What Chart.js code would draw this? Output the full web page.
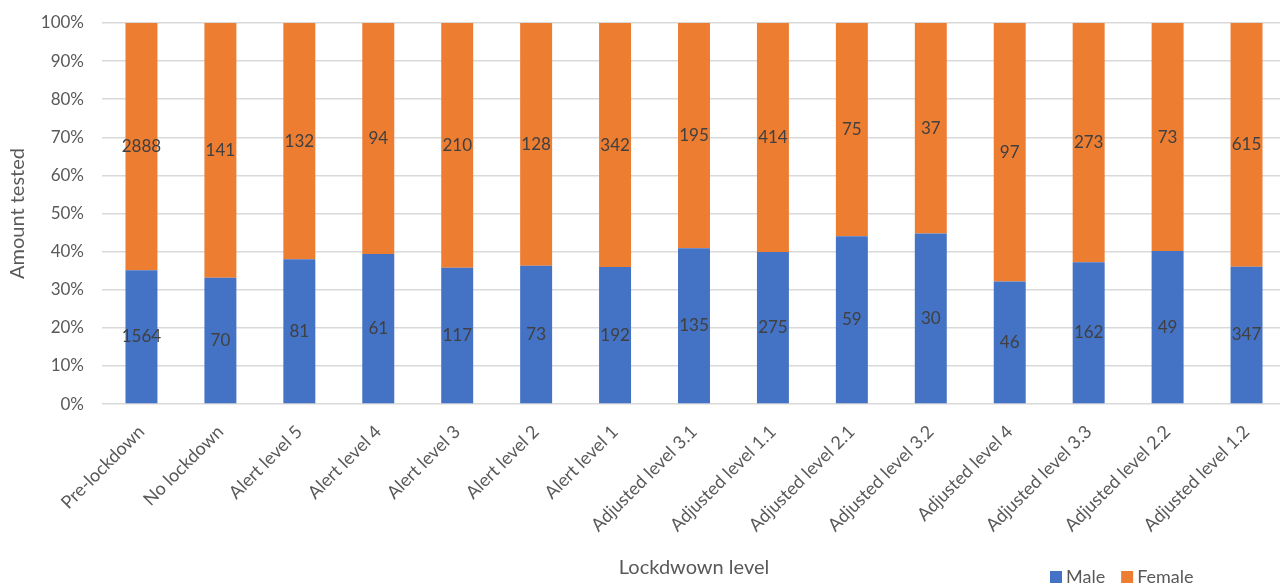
<!DOCTYPE html>
<html lang="en">
<head>
    <meta charset="UTF-8">
    <title>Amount tested by lockdown level</title>
    <script src="https://cdn.jsdelivr.net/npm/chart.js"></script>
    <style>
        body {
            margin: 0;
            overflow: hidden;
            background: #fff;
        }
        #chartContainer {
            width: 1286px;
            height: 586px;
        }
    </style>
</head>
<body>
    <div id="chartContainer">
        <canvas id="barChart" width="1286" height="586"></canvas>
    </div>

    <script>
        const levels = ['Pre-lockdown', 'No lockdown', 'Alert level 5', 'Alert level 4', 'Alert level 3',
            'Alert level 2', 'Alert level 1', 'Adjusted level 3.1', 'Adjusted level 1.1', 'Adjusted level 2.1',
            'Adjusted level 3.2', 'Adjusted level 4', 'Adjusted level 3.3', 'Adjusted level 2.2', 'Adjusted level 1.2'];
        const maleCounts = [1564, 70, 81, 61, 117, 73, 192, 135, 275, 59, 30, 46, 162, 49, 347];
        const femaleCounts = [2888, 141, 132, 94, 210, 128, 342, 195, 414, 75, 37, 97, 273, 73, 615];
        const percentTicks = [0, 10, 20, 30, 40, 50, 60, 70, 80, 90, 100];

        const fontFamily = 'Lato, "Open Sans", sans-serif';
        const textGrey = '#595959';

        // 100% stacked: each bar is share of the category total
        const totals = maleCounts.map((m, i) => m + femaleCounts[i]);
        const toShare = counts => counts.map((c, i) => c / totals[i] * 100);

        // writes the raw count in the middle of every segment
        const countLabels = {
            id: 'countLabels',
            afterDatasetsDraw(chart) {
                const ctx = chart.ctx;
                ctx.save();
                ctx.font = '17px ' + fontFamily;
                ctx.fillStyle = '#404040';
                ctx.textAlign = 'center';
                ctx.textBaseline = 'middle';
                chart.data.datasets.forEach((ds, di) => {
                    chart.getDatasetMeta(di).data.forEach((bar, i) => {
                        const mid = (bar.y + bar.base) / 2;
                        ctx.fillText(String(ds.counts[i]), bar.x, mid);
                    });
                });
                ctx.restore();
            }
        };

        // Excel style legend sitting bottom right
        const cornerLegend = {
            id: 'cornerLegend',
            afterDraw(chart) {
                const ctx = chart.ctx;
                ctx.save();
                ctx.font = '18px ' + fontFamily;
                ctx.textBaseline = 'middle';
                let x = 1050;
                const y = 577;
                chart.data.datasets.forEach(ds => {
                    ctx.fillStyle = ds.backgroundColor;
                    ctx.fillRect(x, y - 6, 12, 12);
                    ctx.fillStyle = textGrey;
                    ctx.textAlign = 'left';
                    ctx.fillText(ds.label, x + 16, y);
                    x += 16 + ctx.measureText(ds.label).width + 16;
                });
                ctx.restore();
            }
        };

        const ctx = document.getElementById('barChart').getContext('2d');
        new Chart(ctx, {
            type: 'bar',
            data: {
                labels: levels,
                datasets: [
                    {
                        label: 'Male',
                        data: toShare(maleCounts),
                        counts: maleCounts,
                        backgroundColor: '#4472C4',
                        barPercentage: 0.405,
                        categoryPercentage: 1
                    },
                    {
                        label: 'Female',
                        data: toShare(femaleCounts),
                        counts: femaleCounts,
                        backgroundColor: '#ED7D31',
                        barPercentage: 0.405,
                        categoryPercentage: 1
                    }
                ]
            },
            options: {
                responsive: false,
                animation: false,
                layout: {
                    padding: { top: 23, left: 6, right: 0, bottom: 6 }
                },
                scales: {
                    x: {
                        stacked: true,
                        grid: { display: false },
                        border: { display: false },
                        afterFit(axis) {
                            // let the slanted first label hang under the y axis
                            axis.paddingLeft = 0;
                            axis.paddingRight = 0;
                        },
                        ticks: {
                            color: textGrey,
                            font: { family: fontFamily, size: 18 },
                            maxRotation: 45,
                            minRotation: 45,
                            autoSkip: false,
                            padding: 9
                        },
                        title: {
                            display: true,
                            text: 'Lockdwown level',
                            color: textGrey,
                            font: { family: fontFamily, size: 20 },
                            padding: { top: 11, bottom: 0 }
                        }
                    },
                    y: {
                        stacked: true,
                        min: 0,
                        max: 100,
                        afterBuildTicks(axis) {
                            axis.ticks = percentTicks.map(v => ({ value: v }));
                        },
                        afterFit(axis) {
                            axis.width = 96;
                            axis.paddingTop = 0;
                            axis.paddingBottom = 0;
                        },
                        grid: { color: '#d9d9d9', lineWidth: 1.5, drawTicks: false },
                        border: { display: false },
                        ticks: {
                            color: textGrey,
                            font: { family: fontFamily, size: 17 },
                            padding: 18,
                            callback: v => v + '%'
                        },
                        title: {
                            display: true,
                            text: 'Amount tested',
                            color: textGrey,
                            font: { family: fontFamily, size: 20 },
                            padding: { top: 0, bottom: 6 }
                        }
                    }
                },
                plugins: {
                    legend: { display: false },
                    tooltip: { enabled: false }
                }
            },
            plugins: [countLabels, cornerLegend]
        });
    </script>
</body>
</html>
